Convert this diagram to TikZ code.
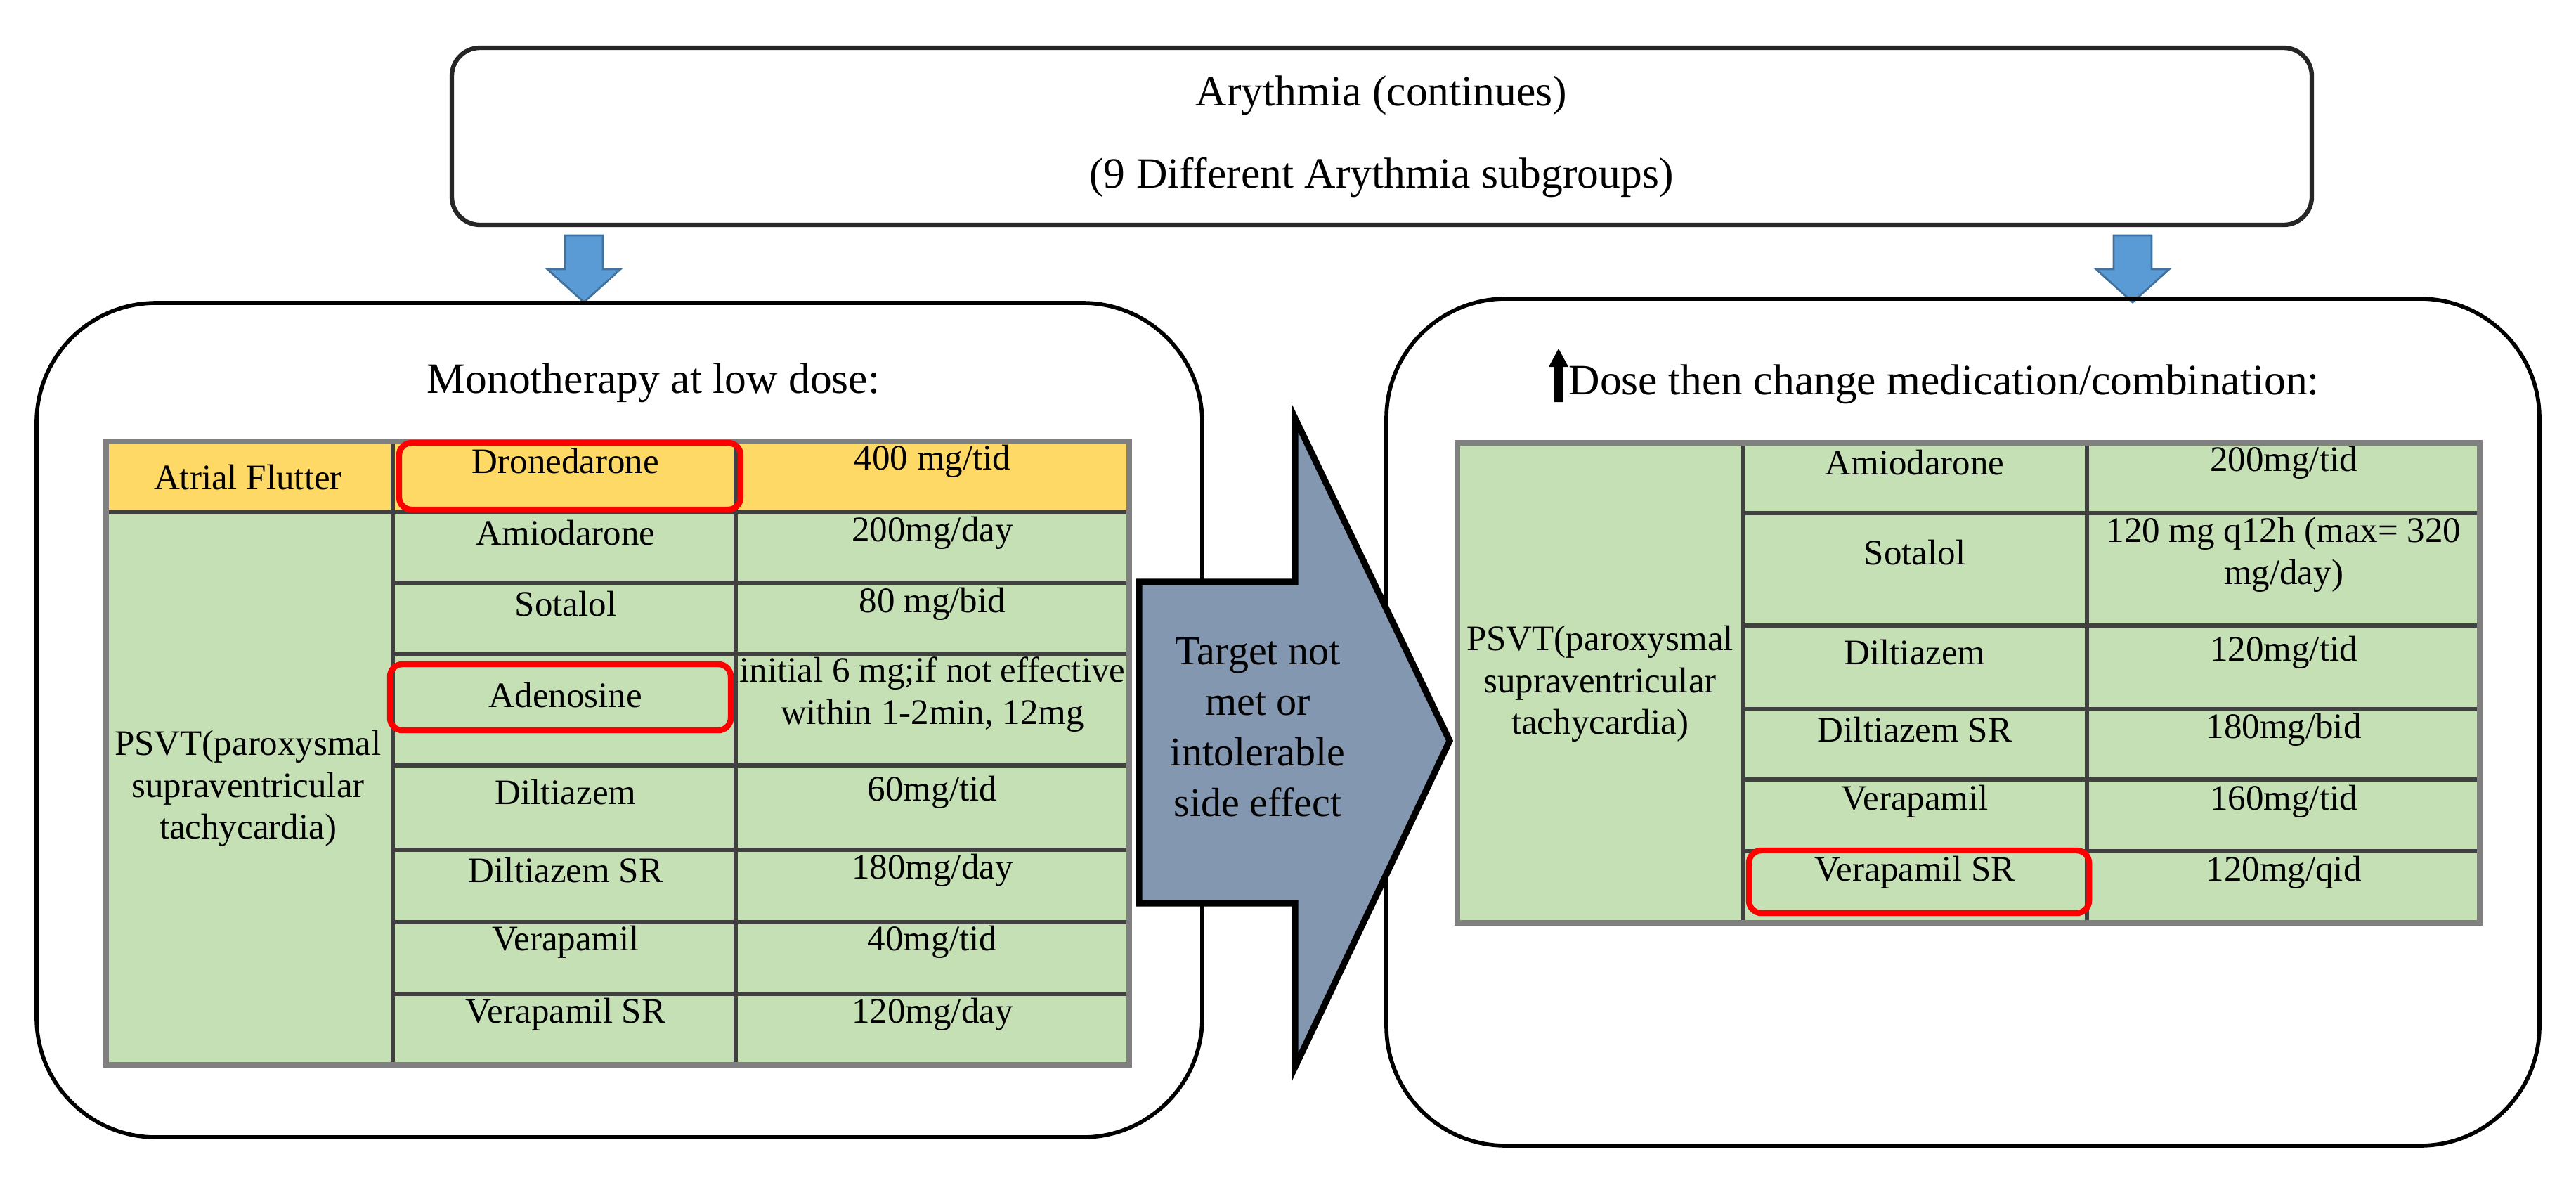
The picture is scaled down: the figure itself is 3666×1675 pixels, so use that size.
\documentclass[tikz,border=0pt]{standalone}
\usepackage{fontspec}
\setmainfont{Liberation Serif}
\definecolor{yel}{RGB}{255,217,102}
\definecolor{grn}{RGB}{197,224,180}
\definecolor{bfill}{RGB}{91,155,213}
\definecolor{bdraw}{RGB}{65,113,156}
\definecolor{gfill}{RGB}{132,151,176}
\begin{document}
\begin{tikzpicture}[x=0.01cm,y=-0.01cm,
  txt/.style={font=\fontsize{14.5}{17}\selectfont,align=center,inner sep=0pt},
  ttl/.style={font=\fontsize{17.5}{21}\selectfont,align=center,inner sep=0pt},
  grid/.style={draw=black!75,line width=1.6pt},
  outer/.style={draw=black!50,line width=2.2pt},
  redbox/.style={draw=red,line width=2.4pt,rounded corners=5pt},
  bigbox/.style={draw=black,line width=1.6pt,rounded corners=1.7cm}]
\useasboundingbox (0,0) rectangle (3666,1675);
% top box
\draw[draw=black!85,line width=1.8pt,rounded corners=0.4cm] (643,68) rectangle (3290,320);
\node[ttl] (t1) at (1966,136) {Arythmia (continues)};
\node[ttl] (t2) at (1966,252) {(9 Different Arythmia subgroups)};
% blue arrows
\foreach \cx/\nm in {831/a1,3035/a2}{
  \draw[fill=bfill,draw=bdraw,line width=0.8pt]
   (\cx-27,335) -- (\cx+27,335) -- (\cx+27,383) -- (\cx+52,383) -- (\cx,430) -- (\cx-52,383) -- (\cx-27,383) -- cycle;
  \coordinate (\nm) at (\cx,430);
}
% big boxes
\draw[bigbox] (52,431) rectangle (1711,1618);
\draw[bigbox] (1973,425) rectangle (3614,1630);
\node[ttl] (lt) at (930,545) {Monotherapy at low dose:};
\node[ttl,anchor=west] (rt) at (2232,547) {Dose then change medication/combination:};
\fill[black] (2212,572) -- (2212,522) -- (2204,522) -- (2218,496) -- (2232,522) -- (2224,522) -- (2224,572) -- cycle;
% left table
\fill[yel] (151,628) rectangle (1607,729);
\fill[grn] (151,729) rectangle (1607,1515);
\foreach \y in {729,829,930,1089,1209,1312,1414} \draw[grid] (559,\y) -- (1607,\y);
\draw[grid] (151,729) -- (559,729);
\draw[grid] (559,628) -- (559,1515);
\draw[grid] (1047,628) -- (1047,1515);
\draw[outer] (151,628) rectangle (1607,1515);
\node[txt] (af) at (353,679) {Atrial Flutter};
\node[txt] (psl) at (353,1122) {PSVT(paroxysmal\\supraventricular\\tachycardia)};
\node[txt] (d1) at (805,656) {Dronedarone};
\node[txt] (d2) at (805,758) {Amiodarone};
\node[txt] (d3) at (805,859) {Sotalol};
\node[txt] (d4) at (805,989) {Adenosine};
\node[txt] (d5) at (805,1127) {Diltiazem};
\node[txt] (d6) at (805,1238) {Diltiazem SR};
\node[txt] (d7) at (805,1340) {Verapamil};
\node[txt] (d8) at (805,1443) {Verapamil SR};
\node[txt] (s1) at (1327,656) {400 mg/tid};
\node[txt] (s2) at (1327,758) {200mg/day};
\node[txt] (s3) at (1327,859) {80 mg/bid};
\node[txt] (s4) at (1327,988) {initial 6 mg;if not effective\\within 1-2min, 12mg};
\node[txt] (s5) at (1327,1127) {60mg/tid};
\node[txt] (s6) at (1327,1238) {180mg/day};
\node[txt] (s7) at (1327,1340) {40mg/tid};
\node[txt] (s8) at (1327,1443) {120mg/day};
\draw[redbox] (568,630) rectangle (1054,725);
\draw[redbox] (555,945) rectangle (1040,1039);
% right table
\fill[grn] (2074,630) rectangle (3529,1313);
\foreach \y in {730,890,1009,1109,1211} \draw[grid] (2481,\y) -- (3529,\y);
\draw[grid] (2481,630) -- (2481,1313);
\draw[grid] (2970,630) -- (2970,1313);
\draw[outer] (2074,630) rectangle (3529,1313);
\node[txt] (psr) at (2277,973) {PSVT(paroxysmal\\supraventricular\\tachycardia)};
\node[txt] (r1) at (2725,658) {Amiodarone};
\node[txt] (r2) at (2725,786) {Sotalol};
\node[txt] (r3) at (2725,928) {Diltiazem};
\node[txt] (r4) at (2725,1038) {Diltiazem SR};
\node[txt] (r5) at (2725,1140) {Verapamil};
\node[txt] (r6) at (2725,1241) {Verapamil SR};
\node[txt] (q1) at (3250,658) {200mg/tid};
\node[txt] (q2) at (3250,789) {120 mg q12h (max= 320\\mg/day)};
\node[txt] (q3) at (3250,928) {120mg/tid};
\node[txt] (q4) at (3250,1038) {180mg/bid};
\node[txt] (q5) at (3250,1140) {160mg/tid};
\node[txt] (q6) at (3250,1241) {120mg/qid};
\draw[redbox] (2489,1210) rectangle (2973,1299);
% big arrow
\draw[fill=gfill,draw=black,line width=2.6pt,line join=miter]
  (1621,828) -- (1843,828) -- (1843,595) -- (2063,1054) -- (1843,1518) -- (1843,1285) -- (1621,1285) -- cycle;
\node[txt,font=\fontsize{16.5}{20.5}\selectfont] (bt) at (1790,1035) {Target not\\met or\\intolerable\\side effect};
\end{tikzpicture}
\end{document}
